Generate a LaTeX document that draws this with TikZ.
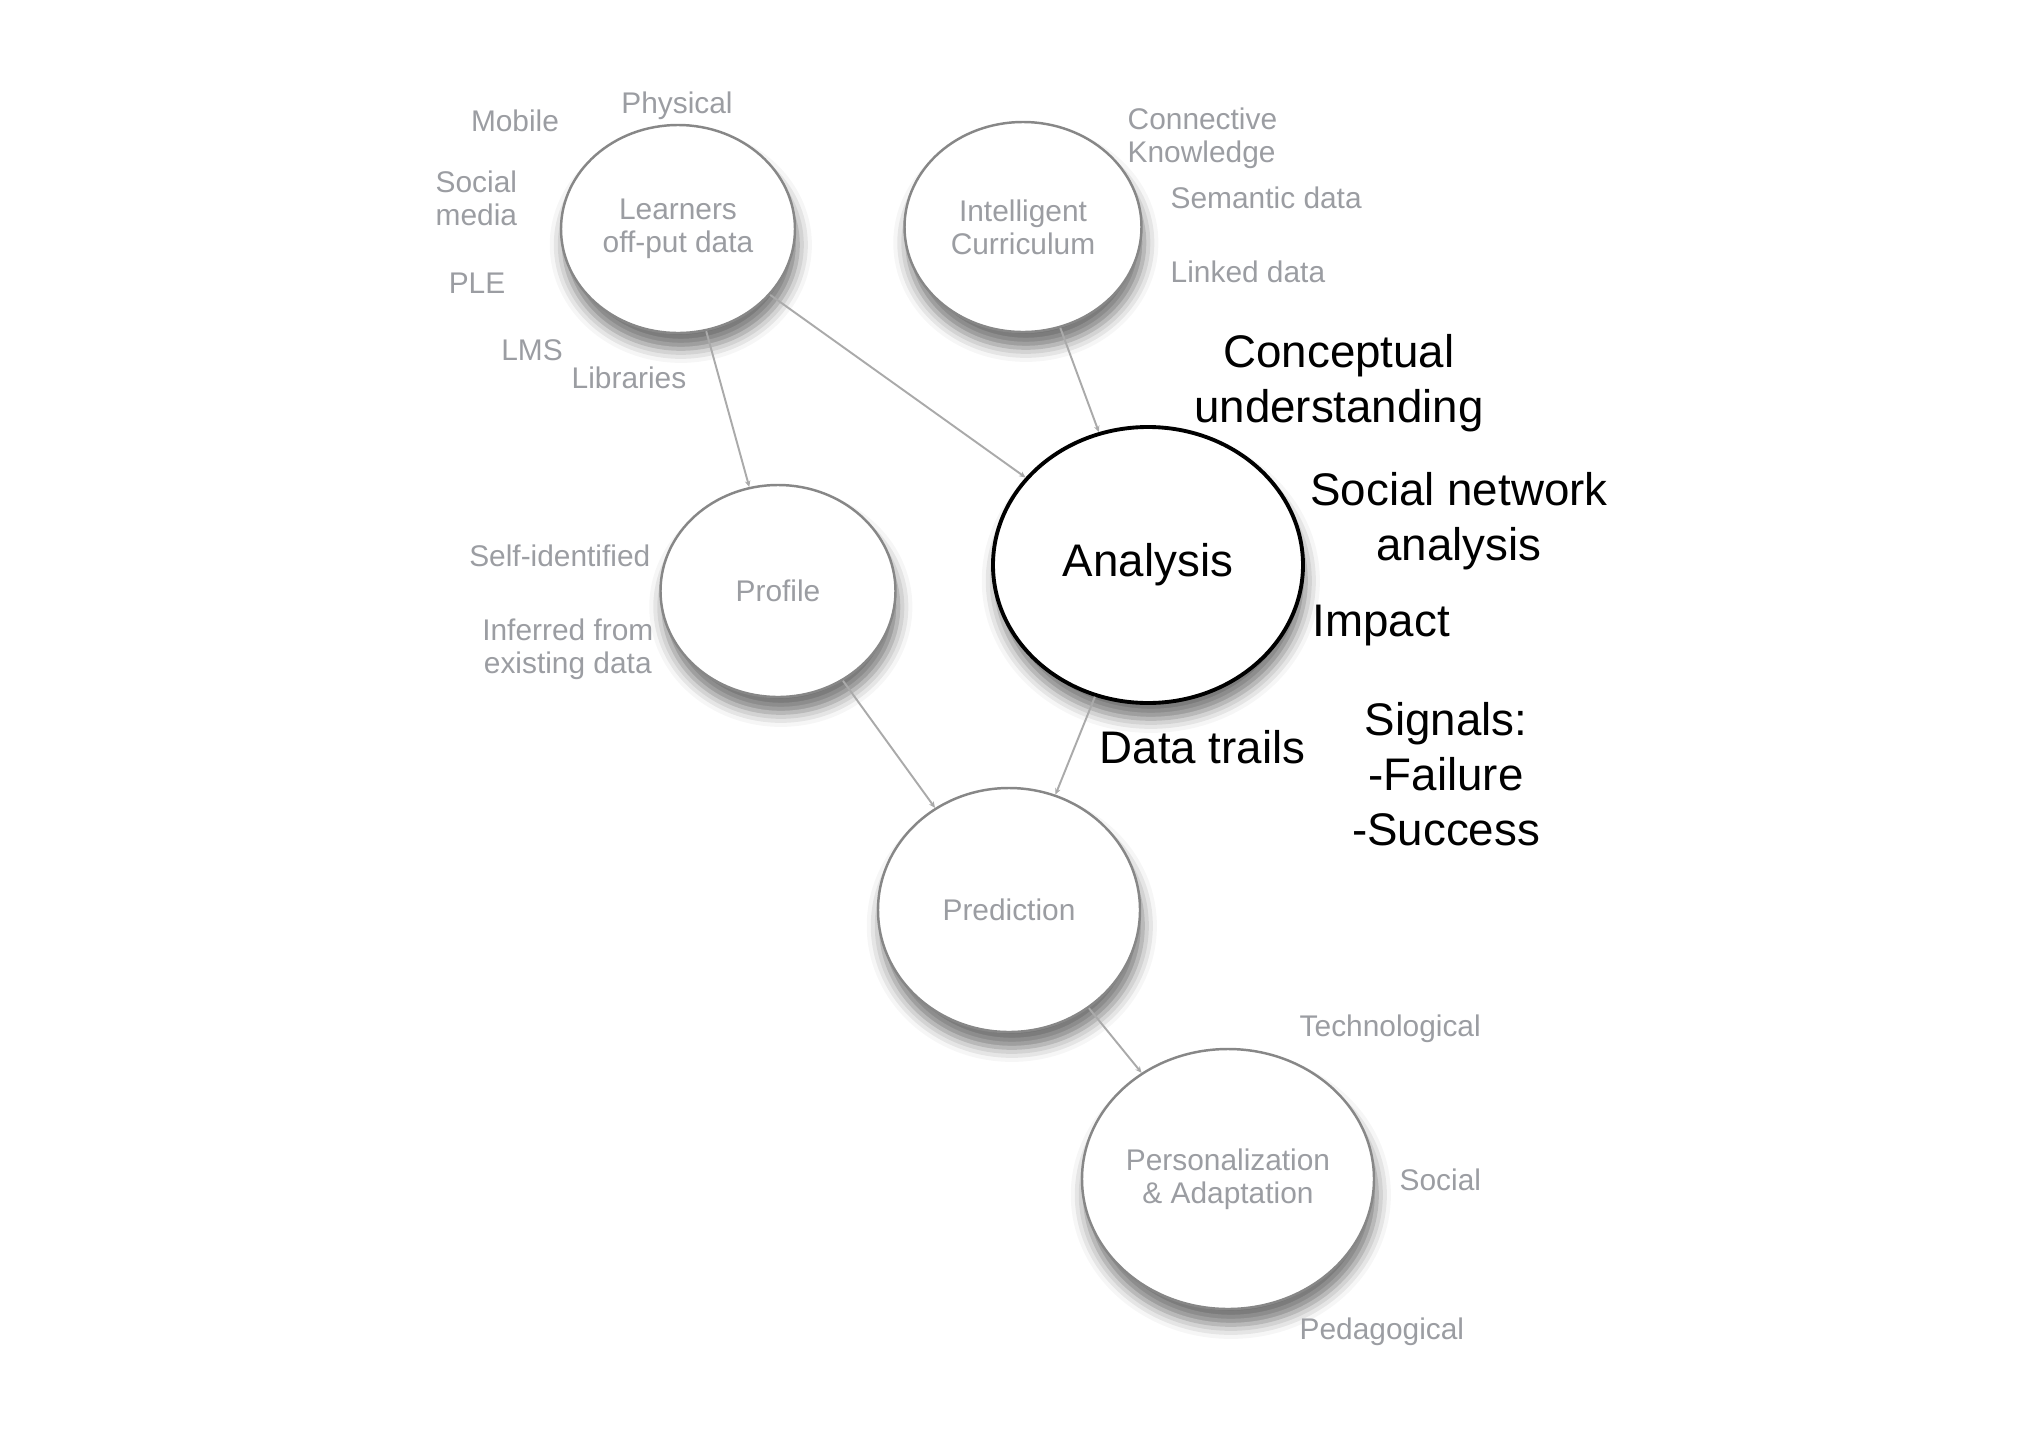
\documentclass[tikz,border=0pt]{standalone}
\usepackage{fontspec}
\setmainfont{Liberation Sans}
\usetikzlibrary{shapes.geometric,shadows.blur,arrows.meta}
\definecolor{gtext}{RGB}{155,157,162}
\definecolor{gline}{RGB}{170,170,170}
\definecolor{gcirc}{RGB}{135,135,135}
\begin{document}
\begin{tikzpicture}[
  bubble/.style={ellipse, draw=gcirc, line width=0.7pt, fill=white, inner sep=0pt,
    text=gtext, font=\fontsize{8.5}{9.4}\selectfont, align=center,
    blur shadow={shadow xshift=0.8pt, shadow yshift=-4.5pt, shadow blur radius=4pt, shadow opacity=55}},
  mainbubble/.style={bubble, draw=black, line width=1.1pt, text=black, font=\fontsize{13}{15.6}\selectfont},
  glabel/.style={text=gtext, font=\fontsize{8.5}{9.4}\selectfont, inner sep=0pt, align=left},
  blabel/.style={text=black, font=\fontsize{13}{15.6}\selectfont, inner sep=0pt, align=center},
  conn/.style={draw=gline, line width=0.55pt, -{Stealth[length=1.8pt,width=1.6pt]}}
]
\useasboundingbox (0,0) rectangle (20.37,-14.40);

% bubbles
\node[bubble, minimum width=2.34cm, minimum height=2.08cm] (learn) at (6.78,-2.29) {Learners\\off-put data};
\node[bubble, minimum width=2.37cm, minimum height=2.10cm] (curr) at (10.23,-2.27) {Intelligent\\Curriculum};
\node[bubble, minimum width=2.35cm, minimum height=2.12cm] (prof) at (7.78,-5.91) {Profile};
\node[mainbubble, minimum width=3.10cm, minimum height=2.76cm] (anal) at (11.48,-5.65) {Analysis};
\node[bubble, minimum width=2.62cm, minimum height=2.44cm] (pred) at (10.09,-9.10) {Prediction};
\node[bubble, minimum width=2.92cm, minimum height=2.60cm] (pers) at (12.28,-11.79) {Personalization\\\&~Adaptation};

% connectors
\draw[conn] (learn) -- (prof);
\draw[conn] (learn) -- (anal);
\draw[conn] (curr) -- (anal);
\draw[conn] (anal) -- (pred);
\draw[conn] (prof) -- (pred);
\draw[conn] (pred) -- (pers);

% gray labels around Learners
\node[glabel] (mob) at (5.15,-1.21) {Mobile};
\node[glabel] (phys) at (6.77,-1.06) {Physical};
\node[glabel, anchor=west] (socm) at (4.35,-1.98) {Social\\media};
\node[glabel] (ple) at (4.77,-2.83) {PLE};
\node[glabel] (lms) at (5.32,-3.50) {LMS};
\node[glabel] (lib) at (6.29,-3.78) {Libraries};

% gray labels around Curriculum
\node[glabel, anchor=west] (conk) at (11.27,-1.385) {Connective\\Knowledge};
\node[glabel, anchor=west] (sem) at (11.70,-1.98) {Semantic data};
\node[glabel, anchor=west] (lnk) at (11.70,-2.72) {Linked data};

% gray labels around Profile
\node[glabel, anchor=east] (self) at (6.51,-5.56) {Self-identified};
\node[glabel, anchor=east, align=center] (inf) at (6.54,-6.49) {Inferred from\\existing data};

% gray labels around Personalization
\node[glabel, anchor=west] (tech) at (12.99,-10.29) {Technological};
\node[glabel, anchor=west] (soc) at (13.99,-11.80) {Social};
\node[glabel, anchor=west] (ped) at (12.99,-13.32) {Pedagogical};

% black labels around Analysis
\node[blabel] (conc) at (13.39,-3.83) {Conceptual\\understanding};
\node[blabel] (sna) at (14.59,-5.21) {Social network\\analysis};
\node[blabel, anchor=west] (imp) at (13.12,-6.26) {Impact};
\node[blabel, anchor=west] (dt) at (10.99,-7.47) {Data trails};
\node[blabel] (sig) at (14.46,-7.74) {Signals:\\-Failure\\-Success};
\end{tikzpicture}
\end{document}
